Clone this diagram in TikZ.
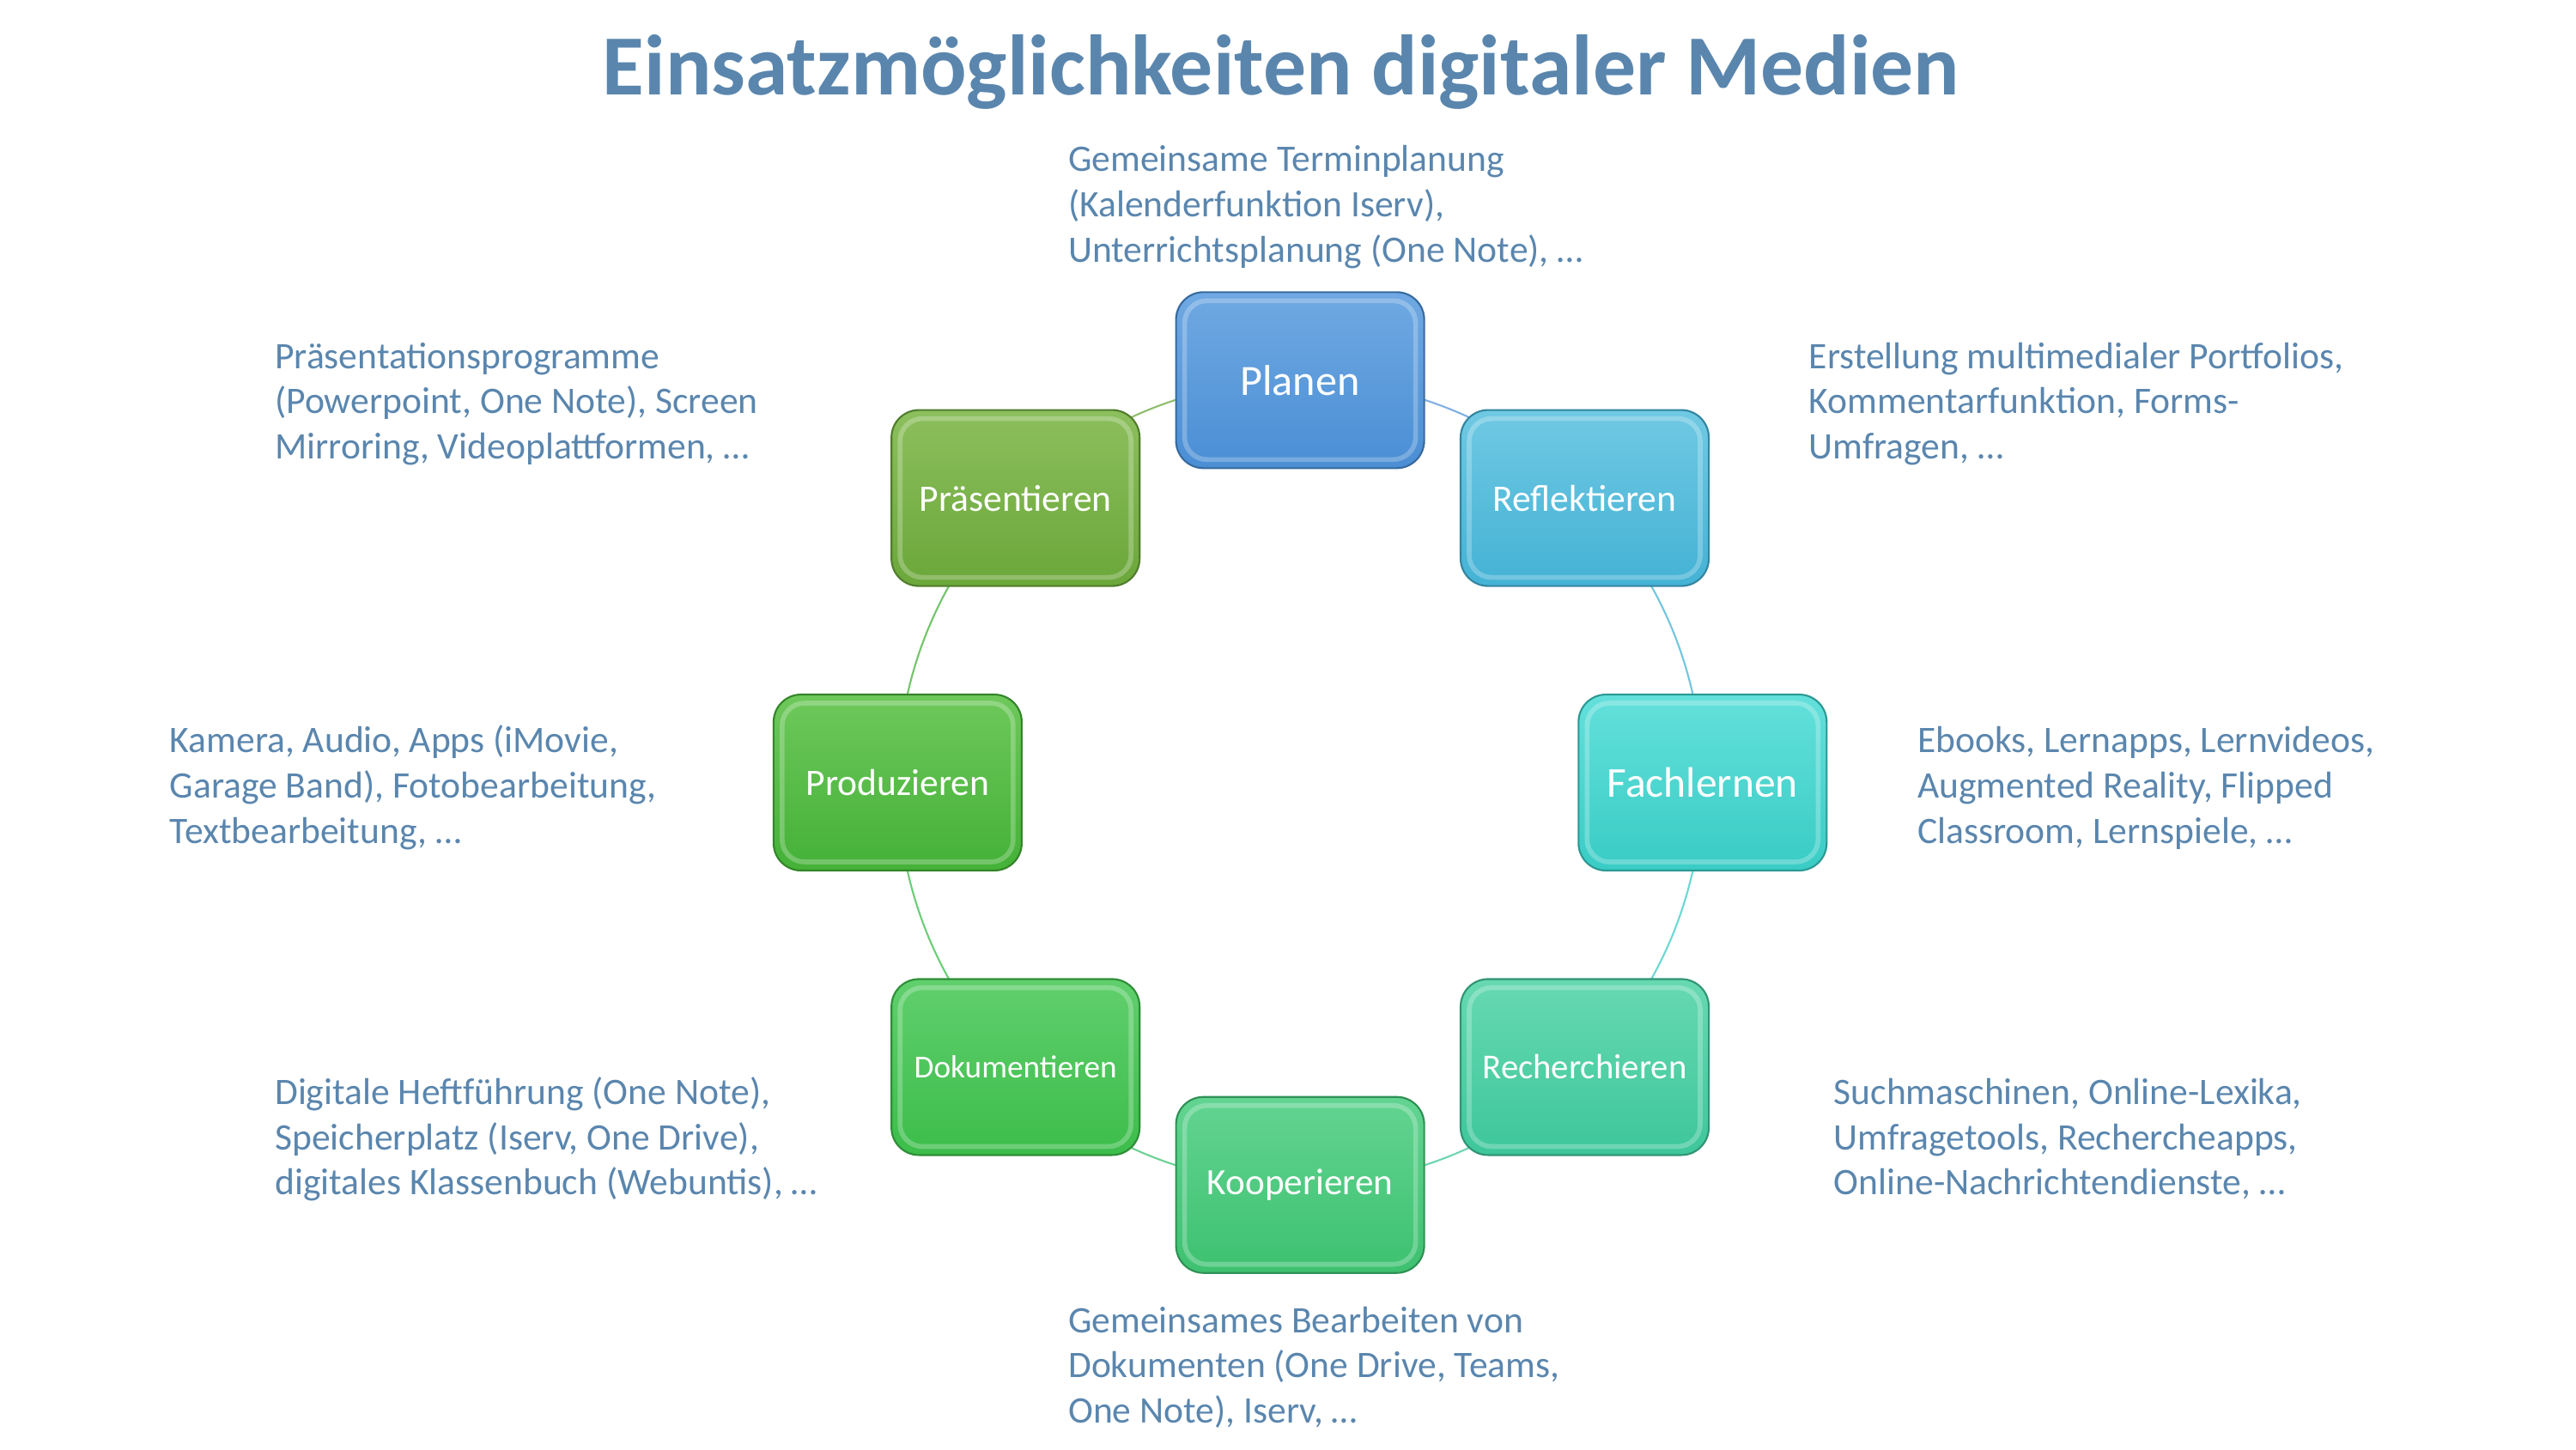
\documentclass[tikz,border=0pt]{standalone}
\usepackage{fontspec}
\setmainfont{Carlito}
\usetikzlibrary{calc}
\pgfdeclarelayer{bg}
\pgfsetlayers{bg,main}
\definecolor{txt}{HTML}{5A86AE}
\definecolor{plT}{HTML}{70A9E3}\definecolor{plB}{HTML}{4A8ED4}
\definecolor{reT}{HTML}{70C9E3}\definecolor{reB}{HTML}{44B2D5}
\definecolor{faT}{HTML}{64E0DB}\definecolor{faB}{HTML}{39CCC5}
\definecolor{rcT}{HTML}{67D9B1}\definecolor{rcB}{HTML}{3EC69B}
\definecolor{koT}{HTML}{63D492}\definecolor{koB}{HTML}{3DC170}
\definecolor{doT}{HTML}{60CF6D}\definecolor{doB}{HTML}{3CBD4A}
\definecolor{prT}{HTML}{6EC85B}\definecolor{prB}{HTML}{44B137}
\definecolor{psT}{HTML}{8CBF5D}\definecolor{psB}{HTML}{6BA73A}
\begin{document}
\begin{tikzpicture}[
  box/.style 2 args={rounded corners=0.32cm, minimum width=2.89cm, minimum height=2.05cm,
    inner sep=0pt, text=white, line width=0.6pt, top color=#1, bottom color=#2, draw=#2!75!black,
    path picture={\draw[white, opacity=0.25, line width=1.6pt, rounded corners=0.26cm]
      ($(path picture bounding box.north west)+(0.1,-0.1)$) rectangle
      ($(path picture bounding box.south east)+(-0.1,0.1)$);}},
  desc/.style={anchor=base west, align=left, text=txt, inner sep=0pt,
    font=\fontsize{12.4}{15}\selectfont},
  link/.style={line width=0.6pt}
]
\useasboundingbox (0,0) rectangle (30,-16.88);
\coordinate (c) at (15.141,-9.115);

\node[anchor=base, text=txt, inner sep=0pt, font=\bfseries\fontsize{28.4}{34}\selectfont]
  (title) at (14.92,-1.10) {Einsatzmöglichkeiten digitaler Medien};

\node[box={plT}{plB}, font=\fontsize{14.3}{17}\selectfont] (planen) at ($(c)+(90:4.687)$) {Planen};
\node[box={reT}{reB}, font=\fontsize{12.4}{15}\selectfont] (reflekt) at ($(c)+(45:4.687)$) {Reflektieren};
\node[box={faT}{faB}, font=\fontsize{14.1}{17}\selectfont] (fach) at ($(c)+(0:4.687)$) {Fachlernen};
\node[box={rcT}{rcB}, font=\fontsize{11.6}{14}\selectfont] (recher) at ($(c)+(-45:4.687)$) {Recherchieren};
\node[box={koT}{koB}, font=\fontsize{12.3}{15}\selectfont] (koop) at ($(c)+(-90:4.687)$) {Kooperieren};
\node[box={doT}{doB}, font=\fontsize{10.6}{13}\selectfont] (doku) at ($(c)+(-135:4.687)$) {Dokumentieren};
\node[box={prT}{prB}, font=\fontsize{12.4}{15}\selectfont] (produ) at ($(c)+(180:4.687)$) {Produzieren};
\node[box={psT}{psB}, font=\fontsize{12.4}{15}\selectfont] (praes) at ($(c)+(135:4.687)$) {Präsentieren};

\begin{pgfonlayer}{bg}
\draw[link, color=plB!70!white] (planen.center) arc[start angle=90, end angle=45, radius=4.687];
\draw[link, color=reB!75!white] (reflekt.center) arc[start angle=45, end angle=0, radius=4.687];
\draw[link, color=faB!75!white] (fach.center) arc[start angle=0, end angle=-45, radius=4.687];
\draw[link, color=rcB!75!white] (recher.center) arc[start angle=-45, end angle=-90, radius=4.687];
\draw[link, color=koB!75!white] (koop.center) arc[start angle=-90, end angle=-135, radius=4.687];
\draw[link, color=doB!75!white] (doku.center) arc[start angle=-135, end angle=-180, radius=4.687];
\draw[link, color=prB!75!white] (produ.center) arc[start angle=180, end angle=135, radius=4.687];
\draw[link, color=psB!75!white] (praes.center) arc[start angle=135, end angle=90, radius=4.687];
\end{pgfonlayer}

\node[desc] (dtop) at (12.435,-3.05) {Gemeinsame Terminplanung\\(Kalenderfunktion Iserv),\\Unterrichtsplanung (One Note), …};
\node[desc] (dur) at (21.06,-5.347) {Erstellung multimedialer Portfolios,\\Kommentarfunktion, Forms-\\Umfragen, …};
\node[desc] (dr) at (22.325,-9.824) {Ebooks, Lernapps, Lernvideos,\\Augmented Reality, Flipped\\Classroom, Lernspiele, …};
\node[desc] (dlr) at (21.35,-13.917) {Suchmaschinen, Online-Lexika,\\Umfragetools, Rechercheapps,\\Online-Nachrichtendienste, …};
\node[desc] (dbot) at (12.435,-16.576) {Gemeinsames Bearbeiten von\\Dokumenten (One Drive, Teams,\\One Note), Iserv, …};
\node[desc] (dll) at (3.195,-13.917) {Digitale Heftführung (One Note),\\Speicherplatz (Iserv, One Drive),\\digitales Klassenbuch (Webuntis), …};
\node[desc] (dl) at (1.97,-9.824) {Kamera, Audio, Apps (iMovie,\\Garage Band), Fotobearbeitung,\\Textbearbeitung, …};
\node[desc] (dul) at (3.195,-5.347) {Präsentationsprogramme\\(Powerpoint, One Note), Screen\\Mirroring, Videoplattformen, …};
\end{tikzpicture}
\end{document}
